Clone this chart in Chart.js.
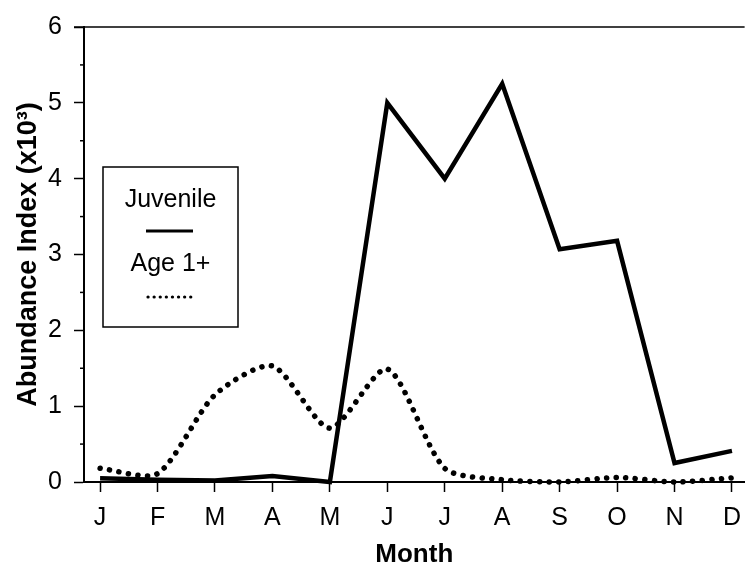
<!DOCTYPE html>
<html>
<head>
<meta charset="utf-8">
<script src="https://cdn.jsdelivr.net/npm/chart.js@4/dist/chart.umd.min.js"></script>
<style>
  body { margin: 0; background: #fff; }
  canvas { display: block; }
</style>
</head>
<body>
<canvas id="abundance" width="752" height="570"></canvas>
<script>
// monthly abundance index, thousands
const months = ["J", "F", "M", "A", "M", "J", "J", "A", "S", "O", "N", "D"];
const juvenile = [0.05, 0.03, 0.02, 0.08, 0.0, 5.0, 4.0, 5.25, 3.07, 3.18, 0.25, 0.41];
const age1plus = [0.18, 0.11, 1.15, 1.53, 0.71, 1.49, 0.18, 0.03, 0.0, 0.06, 0.0, 0.055];
const yTicks = [0, 1, 2, 3, 4, 5, 6];
const yMinorTicks = [0.5, 1.5, 2.5, 3.5, 4.5, 5.5];

const FONT = '"Liberation Sans", Arial, Helvetica, sans-serif';

function toPoints(arr) {
  return arr.map(function (v, i) { return { x: i, y: v }; });
}

// frame top line + short minor ticks on the y axis
const framePlugin = {
  id: "frame",
  afterDraw: function (chart) {
    const ctx = chart.ctx;
    const area = chart.chartArea;
    const y = chart.scales.y;
    ctx.save();
    ctx.strokeStyle = "#000";
    ctx.lineWidth = 1.5;
    ctx.beginPath();
    ctx.moveTo(area.left - 10, area.top);
    ctx.lineTo(area.right, area.top);
    ctx.stroke();
    yMinorTicks.forEach(function (v) {
      const py = y.getPixelForValue(v);
      ctx.beginPath();
      ctx.moveTo(area.left - 4, py);
      ctx.lineTo(area.left, py);
      ctx.stroke();
    });
    ctx.restore();
  }
};

// boxed legend with the label above its line sample
const boxLegend = {
  id: "boxLegend",
  afterDraw: function (chart) {
    const ctx = chart.ctx;
    const box = { left: 103, top: 167, right: 238, bottom: 327 };
    const cx = (box.left + box.right) / 2;
    ctx.save();
    ctx.fillStyle = "#fff";
    ctx.fillRect(box.left, box.top, box.right - box.left, box.bottom - box.top);
    ctx.strokeStyle = "#000";
    ctx.lineWidth = 1.5;
    ctx.strokeRect(box.left, box.top, box.right - box.left, box.bottom - box.top);

    ctx.fillStyle = "#000";
    ctx.font = "25px " + FONT;
    ctx.textAlign = "center";
    ctx.textBaseline = "middle";
    ctx.fillText("Juvenile", cx, 200);
    ctx.fillText("Age 1+", cx, 264);

    ctx.lineWidth = 3.2;
    ctx.beginPath();
    ctx.moveTo(146, 231);
    ctx.lineTo(193, 231);
    ctx.stroke();

    ctx.lineWidth = 3.2;
    ctx.lineCap = "round";
    ctx.setLineDash([0.1, 6]);
    ctx.beginPath();
    ctx.moveTo(148, 297);
    ctx.lineTo(192, 297);
    ctx.stroke();
    ctx.restore();
  }
};

new Chart(document.getElementById("abundance"), {
  type: "line",
  data: {
    datasets: [
      {
        label: "Juvenile",
        data: toPoints(juvenile),
        borderColor: "#000",
        borderWidth: 4.5,
        borderJoinStyle: "miter",
        pointRadius: 0,
        tension: 0,
        clip: false
      },
      {
        label: "Age 1+",
        data: toPoints(age1plus),
        borderColor: "#000",
        borderWidth: 5.5,
        borderDash: [0.1, 9.5],
        borderCapStyle: "round",
        pointRadius: 0,
        tension: 0.25,
        clip: false
      }
    ]
  },
  options: {
    responsive: false,
    devicePixelRatio: 1,
    animation: false,
    layout: { autoPadding: false, padding: { top: 14, right: 0, left: 0, bottom: 0 } },
    plugins: {
      legend: { display: false },
      tooltip: { enabled: false }
    },
    scales: {
      x: {
        type: "linear",
        min: -0.28,
        max: 11.22,
        afterFit: function (scale) { scale.height = 88; },
        border: { display: true, color: "#000", width: 2 },
        grid: {
          drawOnChartArea: false,
          drawTicks: true,
          tickLength: 10,
          tickColor: "#000",
          tickWidth: 1.5
        },
        ticks: {
          stepSize: 1,
          includeBounds: false,
          autoSkip: false,
          maxRotation: 0,
          padding: 11,
          color: "#000",
          font: { family: FONT, size: 25 },
          callback: function (v) { return months[v]; }
        },
        title: {
          display: true,
          text: "Month",
          color: "#000",
          font: { family: FONT, size: 26, weight: "bold", lineHeight: 1 },
          padding: { top: 0, bottom: 2 }
        }
      },
      y: {
        min: 0,
        max: 6,
        afterFit: function (scale) { scale.width = 84; },
        afterBuildTicks: function (scale) {
          scale.ticks = yTicks.map(function (v) { return { value: v }; });
        },
        border: { display: true, color: "#000", width: 2 },
        grid: {
          drawOnChartArea: false,
          drawTicks: true,
          tickLength: 10,
          tickColor: "#000",
          tickWidth: 1.5
        },
        ticks: {
          padding: 12,
          color: "#000",
          font: { family: FONT, size: 25 }
        },
        title: {
          display: true,
          text: "Abundance Index (x10\u00b3)",
          color: "#000",
          font: { family: FONT, size: 27, weight: "bold", lineHeight: 1.2 },
          padding: { top: 12, bottom: 0 }
        }
      }
    }
  },
  plugins: [framePlugin, boxLegend]
});
</script>
</body>
</html>
